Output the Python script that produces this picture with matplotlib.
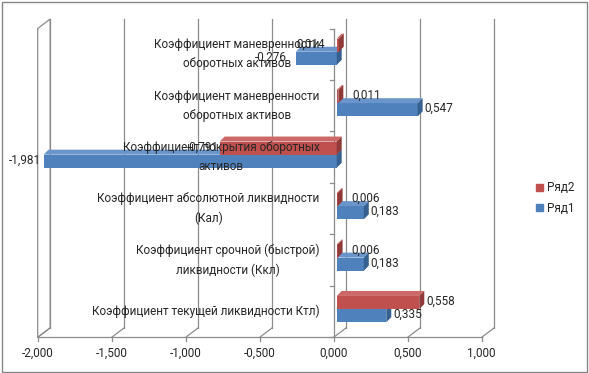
import matplotlib

matplotlib.use("Agg")
import matplotlib.pyplot as plt
import matplotlib.transforms as mtransforms
import numpy as np
from matplotlib.patches import Patch, Polygon, Rectangle

# data, bottom category first (as Excel draws a bar chart)
categories = [
    "Коэффициент текущей ликвидности Ктл)",
    "Коэффициент срочной (быстрой)\nликвидности (Ккл)",
    "Коэффициент абсолютной ликвидности\n(Кал)",
    "Коэффициент покрытия оборотных\nактивов",
    "Коэффициент маневренности\nоборотных активов",
    "Коэффициент маневренности\nоборотных активов",
]
series_names = ["Ряд1", "Ряд2"]
row1 = [0.335, 0.183, 0.183, -1.981, 0.547, -0.276]
row2 = [0.558, 0.006, 0.006, -0.791, 0.011, 0.014]
x_ticks = [-2.0, -1.5, -1.0, -0.5, 0.0, 0.5, 1.0]

# label nudges (pixels), Excel moved a few of them around
nudge1 = [0, 0, 0, 0, 0, -6]
nudge2 = [0, 7, 7, 2, 7, -49]

W, H, DPI = 589, 373, 100
plt.rcParams["font.family"] = ["Roboto", "DejaVu Sans"]
FS = 8.5
TXT = "#262626"
GRID = "#8c8c8c"

fig = plt.figure(figsize=(W / DPI, H / DPI), dpi=DPI)
fig.patch.set_facecolor("white")

# front plane of the 3-D box, in pixels
X0, X1, Y0, Y1 = 37.7, 481.7, 35.7, 344.5
ax = fig.add_axes([X0 / W, Y0 / H, (X1 - X0) / W, (Y1 - Y0) / H])
ax.set_xlim(x_ticks[0], x_ticks[-1])
ax.set_ylim(0, len(categories))
ax.axis("off")

WALL = (12.5, 9.5)      # depth of the box
SHIFT = (3.0, 2.5)      # bars sit a bit behind the front plane
DEPTH = (5.0, 5.0)      # depth of a bar
ident = mtransforms.IdentityTransform()


def shift(dx, dy):
    return ax.transData + mtransforms.Affine2D().translate(dx, dy)


def to_px(x, y, dx=0.0, dy=0.0):
    px, py = ax.transData.transform((x, y))
    return px + dx, py + dy


def seg(p, q, **kw):
    ax.plot([p[0], q[0]], [p[1], q[1]], transform=ident, clip_on=False, **kw)


line_kw = dict(color=GRID, lw=0.9, zorder=1)
ymax = len(categories)

# left side wall
wall = [to_px(x_ticks[0], 0), to_px(x_ticks[0], ymax),
        to_px(x_ticks[0], ymax, *WALL), to_px(x_ticks[0], 0, *WALL)]
ax.add_patch(Polygon(wall, closed=True, transform=ident, fc="white",
                     ec=GRID, lw=0.9, zorder=1, clip_on=False))

# gridlines on the back wall, floor slants, front ticks
for t in x_ticks:
    ax.plot([t, t], [0, ymax], transform=shift(*WALL), clip_on=False, **line_kw)
    seg(to_px(t, 0), to_px(t, 0, *WALL), **line_kw)
    seg(to_px(t, 0), to_px(t, 0, 0, -4), **line_kw)
    ax.text(t, 0, f"{t:.3f}".replace(".", ","), transform=shift(0, -16),
            ha="center", va="center", fontsize=FS, color=TXT)
ax.plot(x_ticks[::len(x_ticks) - 1], [0, 0], clip_on=False, **line_kw)

# category axis at zero
ax.plot([0, 0], [0, ymax], clip_on=False, **line_kw)
for k in range(ymax + 1):
    seg(to_px(0, k), to_px(0, k, -4, 0), **line_kw)

# bars
bar_h = 0.255
pos = np.arange(len(categories)) + 0.5
styles = [
    (row1, nudge1, pos - bar_h, "#4f81bd", "#6a95cb", "#36608f", 3),
    (row2, nudge2, pos, "#c0504d", "#cc6865", "#8f3a38", 4),
]
for vals, nudge, ys, front, top, side, z in styles:
    ax.barh(ys, vals, height=bar_h, align="edge", color=front, lw=0,
            transform=shift(*SHIFT), zorder=z, clip_on=False)
    for v, y, n in zip(vals, ys, nudge):
        x0, x1 = min(0, v), max(0, v)
        y0, y1 = y, y + bar_h
        a = to_px(x0, y1, *SHIFT)
        b = to_px(x1, y1, *SHIFT)
        c = to_px(x1, y0, *SHIFT)
        d = DEPTH
        ax.add_patch(Polygon([a, b, (b[0] + d[0], b[1] + d[1]), (a[0] + d[0], a[1] + d[1])],
                             transform=ident, fc=top, lw=0, zorder=z, clip_on=False))
        ax.add_patch(Polygon([c, b, (b[0] + d[0], b[1] + d[1]), (c[0] + d[0], c[1] + d[1])],
                             transform=ident, fc=side, lw=0, zorder=z, clip_on=False))
        txt = f"{v:.3f}".replace(".", ",")
        yc = y + bar_h / 2
        if v >= 0:
            ax.text(v, yc, txt, transform=shift(SHIFT[0] + d[0] + 2 + n, SHIFT[1] + 1),
                    ha="left", va="center", fontsize=FS, color=TXT, zorder=6)
        else:
            ax.text(v, yc, txt, transform=shift(SHIFT[0] - 3 + n, SHIFT[1] + 1),
                    ha="right", va="center", fontsize=FS, color=TXT, zorder=6)

# category labels sit left of the zero axis
for p, name in zip(pos, categories):
    ax.text(0, p, name, transform=shift(-14, 0), ha="right", va="center",
            multialignment="center", linespacing=1.6, fontsize=FS,
            color=TXT, zorder=5)

# legend (Ряд2 above Ряд1, like Excel)
handles = [Patch(color="#c0504d", label=series_names[1]),
           Patch(color="#4f81bd", label=series_names[0])]
fig.legend(handles=handles, loc="center left", bbox_to_anchor=(531 / W, 1 - 198 / H),
           frameon=False, fontsize=FS, handlelength=0.6, handleheight=0.6,
           handletextpad=0.35, labelspacing=0.6, borderaxespad=0, labelcolor=TXT)

# outer chart border
fig.add_artist(Rectangle((1.5 / W, 1.5 / H), (W - 3.5) / W, (H - 3.5) / H,
                         transform=fig.transFigure, fill=False, ec="#868686", lw=1.0))

fig.savefig("out.png", dpi=DPI)
